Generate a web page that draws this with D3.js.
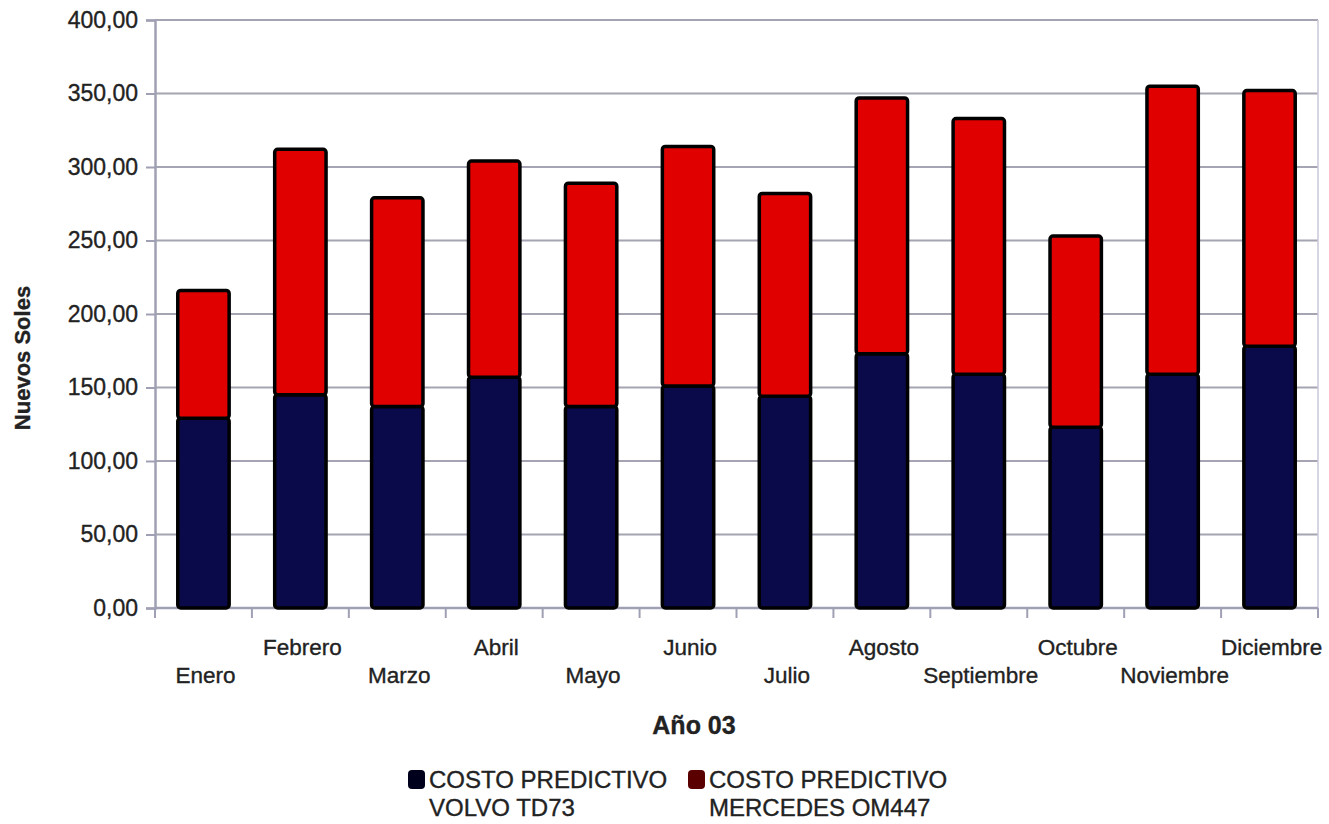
<!DOCTYPE html>
<html>
<head>
<meta charset="utf-8">
<script src="https://cdn.jsdelivr.net/npm/d3@7"></script>
<style>
  html, body { margin: 0; padding: 0; background: #fff; }
  svg { display: block; }
  text { font-family: "Liberation Sans", Arial, sans-serif; fill: #222; stroke: #222; stroke-width: 0.35px; }
</style>
</head>
<body>
<svg id="chart" width="1329" height="824"></svg>
<script>
// Monthly predictive maintenance cost (Nuevos Soles), year 03
const months = ["Enero", "Febrero", "Marzo", "Abril", "Mayo", "Junio",
                "Julio", "Agosto", "Septiembre", "Octubre", "Noviembre", "Diciembre"];
const volvo    = [129, 145, 137, 157, 137, 151, 144, 173, 159, 123, 159, 178];
const mercedes = [ 87, 167, 142, 147, 152, 163, 138, 174, 174, 130, 196, 174];
const yTicks = [0, 50, 100, 150, 200, 250, 300, 350, 400];
const seriesNames = [["COSTO PREDICTIVO", "VOLVO TD73"], ["COSTO PREDICTIVO", "MERCEDES OM447"]];

const barColors = ["#0a0a4a", "#e00000"];
const legendColors = ["#00001c", "#5a0000"];

const svg = d3.select("#chart");
const m = { left: 155, top: 20, right: 11, bottom: 216 };
const W = 1329, H = 824;
const iw = W - m.left - m.right, ih = H - m.top - m.bottom;
const g = svg.append("g").attr("transform", `translate(${m.left},${m.top})`);

const x = d3.scaleBand().domain(months).range([0, iw]).paddingInner(0.47).paddingOuter(0.235);
const y = d3.scaleLinear().domain([0, 400]).range([ih, 0]);

const fmt = v => d3.format(".2f")(v).replace(".", ",");

// horizontal gridlines
g.selectAll("line.grid").data(yTicks.filter(d => d > 0)).join("line")
  .attr("class", "grid")
  .attr("x1", 0).attr("x2", iw)
  .attr("y1", d => y(d)).attr("y2", d => y(d))
  .attr("stroke", "#a4a4b2").attr("stroke-width", 2.2);

// right frame line
g.append("line").attr("x1", iw).attr("x2", iw).attr("y1", 0).attr("y2", ih)
  .attr("stroke", "#c8c8d8").attr("stroke-width", 1.5);

// y axis
const yAxis = g.append("g").call(d3.axisLeft(y).tickValues(yTicks).tickFormat(fmt).tickSize(9).tickPadding(8));
yAxis.select(".domain").attr("stroke", "#a0a0b4").attr("stroke-width", 2.5);
yAxis.selectAll(".tick line").attr("stroke", "#a0a0b4").attr("stroke-width", 2);
yAxis.selectAll(".tick text").attr("font-size", 23).attr("fill", "#333")
  .attr("font-family", "Liberation Sans, Arial, sans-serif");

// x axis: ticks on band boundaries
const bounds = months.map(mm => x(mm) - x.step() * x.paddingInner() / 2).concat([iw]);
bounds[0] = 0;
const xg = g.append("g").attr("transform", `translate(0,${ih})`);
xg.append("line").attr("x1", 0).attr("x2", iw).attr("y1", 0).attr("y2", 0)
  .attr("stroke", "#a0a0b4").attr("stroke-width", 2.5);
xg.selectAll("line.tk").data(bounds).join("line").attr("class", "tk")
  .attr("x1", d => d).attr("x2", d => d).attr("y1", 0).attr("y2", 10)
  .attr("stroke", "#a0a0b4").attr("stroke-width", 2);
xg.selectAll("text.lbl").data(months).join("text").attr("class", "lbl")
  .attr("x", d => x(d) + x.bandwidth() / 2 + 2)
  .attr("y", (d, i) => i % 2 === 0 ? 75 : 47)
  .attr("text-anchor", "middle").attr("font-size", 22.5).attr("fill", "#222")
  .text(d => d);

// stacked bars
const stackData = months.map((mm, i) => ({ month: mm, volvo: volvo[i], mercedes: mercedes[i] }));
const stacked = d3.stack().keys(["volvo", "mercedes"])(stackData);
stacked.forEach((layer, li) => {
  g.selectAll(`rect.s${li}`).data(layer).join("rect").attr("class", `s${li}`)
    .attr("x", d => x(d.data.month))
    .attr("width", x.bandwidth())
    .attr("y", d => y(d[1]))
    .attr("height", d => y(d[0]) - y(d[1]))
    .attr("rx", 3)
    .attr("fill", barColors[li])
    .attr("stroke", "#000").attr("stroke-width", 3.5);
});

// axis titles
svg.append("text").attr("transform", `translate(30,${m.top + ih / 2 + 44}) rotate(-90)`)
  .attr("text-anchor", "middle").attr("font-size", 22).attr("font-weight", "bold")
  .attr("fill", "#222").text("Nuevos Soles");
svg.append("text").attr("x", 694).attr("y", 734)
  .attr("text-anchor", "middle").attr("font-size", 25).attr("font-weight", "bold")
  .attr("fill", "#111").text("Año 03");

// legend
const legendX = [408, 688];
seriesNames.forEach((lines, i) => {
  const lg = svg.append("g").attr("transform", `translate(${legendX[i]},770)`);
  lg.append("rect").attr("x", 0).attr("y", 0).attr("width", 17).attr("height", 19)
    .attr("rx", 4).attr("fill", legendColors[i]);
  lines.forEach((t, j) => {
    lg.append("text").attr("x", 21).attr("y", 18 + j * 28)
      .attr("font-size", 24).attr("fill", "#111").text(t);
  });
});
</script>
</body>
</html>
